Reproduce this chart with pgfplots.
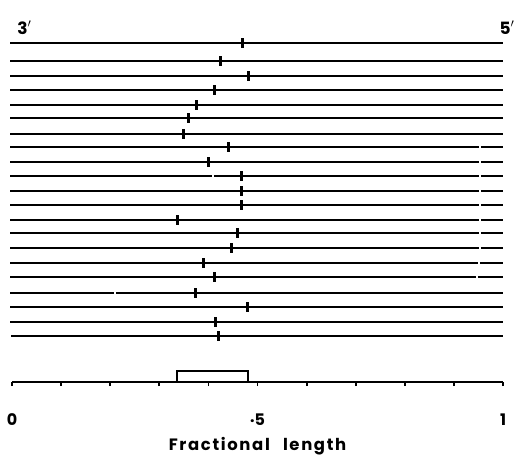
\documentclass[border=0pt]{standalone}
\usepackage{fontspec}
\setmainfont{Poppins}
\usepackage{pgfplots}
\pgfplotsset{compat=1.18}

\begin{document}
\begin{tikzpicture}

% one row per molecule: row position (px from top) and fractional position of the mark
\pgfplotstableread{
row  pos
43   0.469
61   0.425
76   0.481
90   0.413
105  0.375
118  0.359
134  0.350
147  0.441
162  0.400
176  0.468
191  0.468
205  0.468
220  0.337
233  0.459
248  0.446
263  0.389
277  0.413
293  0.373
307  0.479
322  0.414
336  0.420
}\marks

\begin{axis}[
  width=491bp, height=362bp, scale only axis,
  xmin=0, xmax=1, ymin=20, ymax=382,
  y dir=reverse,
  axis x line=bottom, hide y axis,
  x axis line style={-, line width=2.2bp},
  xtick={0,0.5,1}, xticklabels={0,{\raisebox{0.3ex}{.}5},1},
  minor xtick={0.1,0.2,0.3,0.4,0.6,0.7,0.8,0.9},
  tick align=outside,
  major tick length=4bp, minor tick length=4bp,
  tick style={line width=1.8bp, black},
  xticklabel style={font=\fontsize{16}{18}\selectfont\bfseries, yshift=-24bp},
  xlabel={\addfontfeatures{LetterSpace=10}Fractional\hspace{0.8em}length},
  xlabel style={font=\fontsize{16.5}{19}\selectfont\bfseries, yshift=-5bp},
  clip=false,
  unbounded coords=jump,
]

% the molecules, drawn as horizontal lines (small breaks as in the original)
\addplot[black, line width=2.2bp] coordinates {
  (-0.004,43) (1,43) (0,nan)
  (-0.004,61) (1,61) (0,nan)
  (-0.004,76) (1,76) (0,nan)
  (-0.004,90) (1,90) (0,nan)
  (-0.004,105) (1,105) (0,nan)
  (-0.004,118) (1,118) (0,nan)
  (-0.004,134) (1,134) (0,nan)
  (-0.004,147) (0.951,147) (0,nan) (0.955,147) (1,147) (0,nan)
  (-0.004,162) (0.951,162) (0,nan) (0.955,162) (1,162) (0,nan)
  (-0.004,176) (0.407,176) (0,nan) (0.411,176) (0.951,176) (0,nan) (0.955,176) (1,176) (0,nan)
  (-0.004,191) (0.951,191) (0,nan) (0.955,191) (1,191) (0,nan)
  (-0.004,205) (0.951,205) (0,nan) (0.955,205) (1,205) (0,nan)
  (-0.004,220) (0.951,220) (0,nan) (0.955,220) (1,220) (0,nan)
  (-0.004,233) (0.951,233) (0,nan) (0.955,233) (1,233) (0,nan)
  (-0.004,248) (0.951,248) (0,nan) (0.955,248) (1,248) (0,nan)
  (-0.004,263) (0.949,263) (0,nan) (0.953,263) (1,263) (0,nan)
  (-0.004,277) (0.945,277) (0,nan) (0.949,277) (1,277) (0,nan)
  (-0.004,293) (0.208,293) (0,nan) (0.212,293) (1,293) (0,nan)
  (-0.004,307) (1,307) (0,nan)
  (-0.004,322) (1,322) (0,nan)
  (-0.002,336) (1,336)
};

% position of the mark on each molecule
\addplot[only marks, mark=|, mark size=5bp, mark options={line width=3bp, black}]
  table[x=pos, y=row] {\marks};

% range of the marks
\addplot[black, line width=1.8bp] coordinates {(0.336,382) (0.336,371) (0.481,371) (0.481,382)};

\node[anchor=base west, font=\fontsize{17}{19}\selectfont\bfseries] at (axis cs:0.004,34) {3$'$};
\node[anchor=base east, font=\fontsize{17}{19}\selectfont\bfseries] at (axis cs:1.0305,34) {5$'$};

\path (axis cs:-0.02444,0) rectangle (axis cs:1.0305,456);
\end{axis}
\end{tikzpicture}
\end{document}
